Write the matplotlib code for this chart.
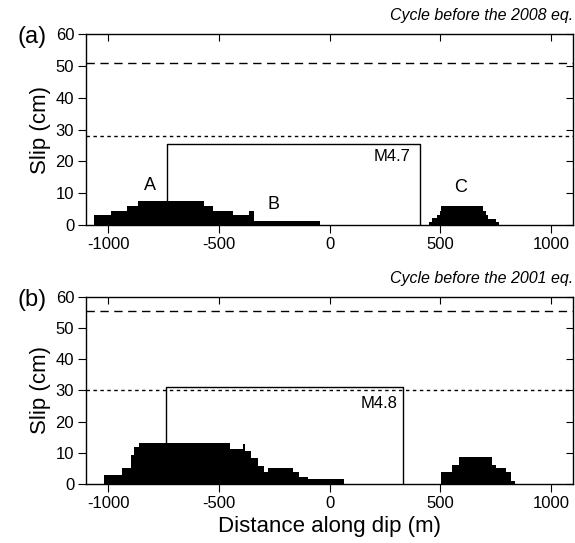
import matplotlib
matplotlib.use("Agg")
import matplotlib.pyplot as plt
import numpy as np

plt.rcParams['font.family'] = ['Liberation Sans', 'DejaVu Sans']

# Panel (a): cycle before the 2008 eq.
a_A_edges = [-1063, -988, -915, -867, -568, -527, -435, -364, -342, -45]
a_A_slip = [3, 4.5, 6, 7.6, 6, 4.5, 3, 4.3, 1.2]
a_C_edges = [448, 463, 486, 498, 505, 694, 705, 715, 754, 765]
a_C_slip = [1, 2.1, 3.1, 4.4, 6.1, 4.5, 3, 2, 1]
a_rect = (-735, 410, 25.3)   # left, right, height
a_dashed = 51
a_dotted = 28

# Panel (b): cycle before the 2001 eq.
b_A_edges = [-1018, -937, -899, -885, -861, -449, -392, -380, -356, -323, -295, -277, -166, -136, -95, 66]
b_A_slip = [3, 5.2, 9.2, 11.8, 13.1, 11.3, 12.9, 10.5, 8.2, 5.7, 3.7, 5.2, 3.9, 2.3, 1.5]
b_C_edges = [504, 554, 587, 732, 753, 798, 821, 840]
b_C_slip = [4, 6, 8.7, 6.2, 5, 3.9, 0.8]
b_rect = (-740, 332, 31.1)
b_dashed = 55.5
b_dotted = 30

xticks = [-1000, -500, 0, 500, 1000]
yticks = [0, 10, 20, 30, 40, 50, 60]

fig = plt.figure(figsize=(5.75, 5.43), dpi=100)
ax_a = fig.add_axes([0.1496, 0.5856, 0.8469, 0.3518])
ax_b = fig.add_axes([0.1496, 0.1087, 0.8469, 0.3443])


def steps(ax, edges, slip):
    e = np.array(edges, dtype=float)
    h = np.array(list(slip) + [slip[-1]], dtype=float)
    ax.fill_between(e, 0, h, step='post', color='black', linewidth=0)


def panel(ax, parts, rect, dashed, dotted, mlabel, mpos, letter, title):
    for edges, slip in parts:
        steps(ax, edges, slip)
    l, r, h = rect
    ax.plot([l, l, r, r], [0, h, h, 0], color='black', lw=1.0)
    ax.axhline(dashed, color='black', lw=1.0, ls=(0, (6, 4)))
    ax.axhline(dotted, color='black', lw=1.0, ls=(0, (2.5, 2.5)))
    ax.text(mpos[0], mpos[1], mlabel, ha='right', va='center', fontsize=12)
    ax.set_xlim(-1100, 1100)
    ax.set_ylim(0, 60)
    ax.set_xticks(xticks)
    ax.set_xticklabels([str(t) for t in xticks])
    ax.set_yticks(yticks)
    ax.tick_params(axis='both', which='major', labelsize=12, length=6, width=0.8,
                   direction='out', pad=2.5)
    ax.tick_params(axis='x', top=True, labeltop=False)
    ax.tick_params(axis='y', right=True, labelright=False)
    for t in ax.xaxis.get_major_ticks():
        t.tick2line.set_marker(3)  # inward top tick
        t.tick2line.set_markersize(5)
    for t in ax.yaxis.get_major_ticks():
        t.tick2line.set_marker(0)
        t.tick2line.set_markersize(5)
    ax.set_ylabel('Slip (cm)', fontsize=16, labelpad=3)
    for s in ax.spines.values():
        s.set_linewidth(1.0)
    ax.text(1.0, 1.06, title, transform=ax.transAxes, ha='right', va='bottom',
            fontsize=11.5, style='italic')
    ax.text(-0.14, 0.985, letter, transform=ax.transAxes, ha='left', va='center',
            fontsize=17)


panel(ax_a, [(a_A_edges, a_A_slip), (a_C_edges, a_C_slip)], a_rect, a_dashed,
      a_dotted, 'M4.7', (365, 21.5), '(a)', 'Cycle before the 2008 eq.')
ax_a.text(-811, 12.3, 'A', ha='center', va='center', fontsize=13)
ax_a.text(-255, 6.5, 'B', ha='center', va='center', fontsize=13)
ax_a.text(591, 11.8, 'C', ha='center', va='center', fontsize=13)

panel(ax_b, [(b_A_edges, b_A_slip), (b_C_edges, b_C_slip)], b_rect, b_dashed,
      b_dotted, 'M4.8', (305, 25.8), '(b)', 'Cycle before the 2001 eq.')
ax_b.set_xlabel('Distance along dip (m)', fontsize=16, labelpad=4)

fig.savefig('out.png', dpi=100)
